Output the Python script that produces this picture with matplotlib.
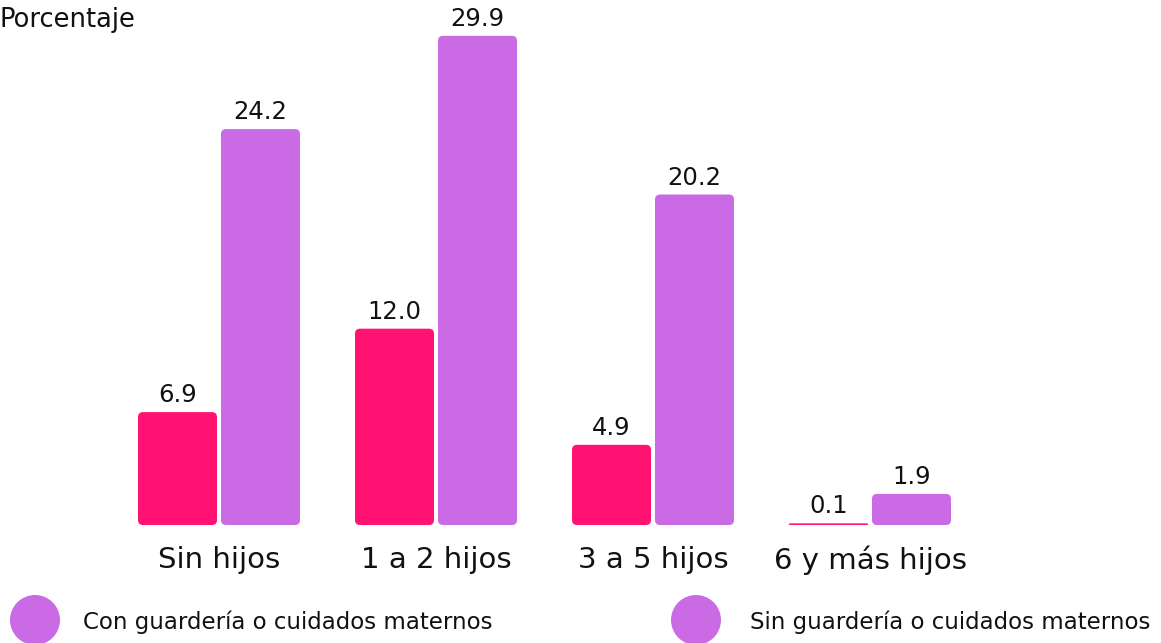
import matplotlib
matplotlib.use("Agg")
import matplotlib.pyplot as plt
from matplotlib.patches import FancyBboxPatch, Ellipse

plt.rcParams['font.family'] = ['DejaVu Sans']

categories = ["Sin hijos", "1 a 2 hijos", "3 a 5 hijos", "6 y más hijos"]
con_guarderia = [6.9, 12.0, 4.9, 0.1]
sin_guarderia = [24.2, 29.9, 20.2, 1.9]
series_labels = ["Con guardería o cuidados maternos", "Sin guardería o cuidados maternos"]

PINK = "#FF1272"
PURPLE = "#CA6BE5"
INK = "#111111"

W, H = 1161, 643
fig = plt.figure(figsize=(W / 100, H / 100), dpi=100)
ax = fig.add_axes([0, 0, 1, 1])

# pixel scale: one category step = 217 px, one percentage point = 16.36 px
xstep, ystep = 217.0, 16.36
x0_px, y0_px = 219.0, 525.0
ax.set_xlim(-x0_px / xstep, (W - x0_px) / xstep)
ax.set_ylim(-(H - y0_px) / ystep, y0_px / ystep)
ax.axis("off")

bw = 79 / xstep
off = (79 + 4) / 2 / xstep
xs = list(range(len(categories)))

bars1 = ax.bar([x - off for x in xs], con_guarderia, width=bw, color=PINK)
bars2 = ax.bar([x + off for x in xs], sin_guarderia, width=bw, color=PURPLE)

# replace plain rectangles with softly rounded ones
r_px = 5.0
for bars in (bars1, bars2):
    for b in bars:
        b.set_visible(False)
        x, y, w, h = b.get_x(), b.get_y(), b.get_width(), b.get_height()
        rs = min(r_px / xstep, h * ystep / 2 / xstep)
        p = FancyBboxPatch((x, y), w, h,
                           boxstyle=f"round,pad=0,rounding_size={rs}",
                           mutation_aspect=xstep / ystep,
                           fc=b.get_facecolor(), ec="none")
        ax.add_patch(p)
        ax.text(x + w / 2, h + 5 / ystep, f"{h:.1f}", ha="center", va="bottom",
                fontsize=17.5, color=INK)

for x, c in zip(xs, categories):
    ax.text(x, -35 / ystep, c, ha="center", va="center", fontsize=21, color=INK)

fig.text(0 / W, 1 - 20 / H, "Porcentaje", ha="left", va="center", fontsize=18.5, color=INK)

# legend
for cx, tx, lab in [(35, 83, series_labels[0]), (696, 750, series_labels[1])]:
    fig.patches.append(Ellipse((cx / W, 1 - 620 / H), 50 / W, 50 / H,
                               transform=fig.transFigure, fc=PURPLE, ec="none"))
    fig.text(tx / W, 1 - 622 / H, lab, ha="left", va="center", fontsize=16.5, color=INK)

fig.savefig("out.png", dpi=100)
